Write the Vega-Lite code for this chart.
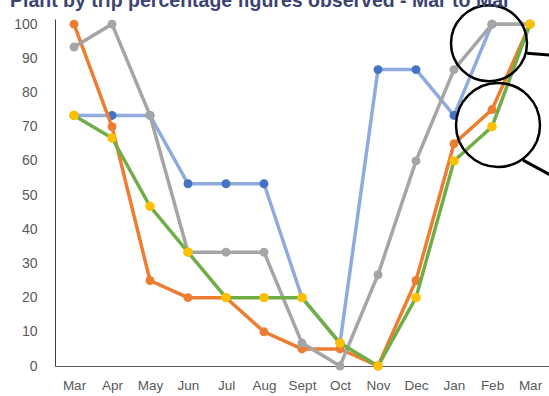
{
  "$schema": "https://vega.github.io/schema/vega-lite/v6.json",
  "width": 494,
  "height": 347,
  "autosize": {"type": "none"},
  "padding": {"left": 55, "top": 19, "right": 0, "bottom": 30},
  "background": "white",
  "config": {"view": {"stroke": null}},
  "title": {"text": "Plant by trip percentage figures observed - Mar to Mar", "anchor": "start", "frame": "group", "dx": -45, "offset": 0, "dy": 26, "baseline": "alphabetic", "fontSize": 19.5, "font": "Liberation Sans", "fontWeight": "bold", "color": "#3B4470"},
  "datasets": {
    "series": [
      {"month": "Mar", "series": "A", "value": 73.3},
      {"month": "Apr", "series": "A", "value": 73.3},
      {"month": "May", "series": "A", "value": 73.3},
      {"month": "Jun", "series": "A", "value": 53.3},
      {"month": "Jul", "series": "A", "value": 53.3},
      {"month": "Aug", "series": "A", "value": 53.3},
      {"month": "Sept", "series": "A", "value": 20},
      {"month": "Oct", "series": "A", "value": 6.7},
      {"month": "Nov", "series": "A", "value": 86.7},
      {"month": "Dec", "series": "A", "value": 86.7},
      {"month": "Jan", "series": "A", "value": 73.3},
      {"month": "Feb", "series": "A", "value": 100},
      {"month": "Mar ", "series": "A", "value": 100},
      {"month": "Mar", "series": "B", "value": 100},
      {"month": "Apr", "series": "B", "value": 70},
      {"month": "May", "series": "B", "value": 25},
      {"month": "Jun", "series": "B", "value": 20},
      {"month": "Jul", "series": "B", "value": 20},
      {"month": "Aug", "series": "B", "value": 10},
      {"month": "Sept", "series": "B", "value": 5},
      {"month": "Oct", "series": "B", "value": 5},
      {"month": "Nov", "series": "B", "value": 0},
      {"month": "Dec", "series": "B", "value": 25},
      {"month": "Jan", "series": "B", "value": 65},
      {"month": "Feb", "series": "B", "value": 75},
      {"month": "Mar ", "series": "B", "value": 100},
      {"month": "Mar", "series": "C", "value": 93.3},
      {"month": "Apr", "series": "C", "value": 100},
      {"month": "May", "series": "C", "value": 73.3},
      {"month": "Jun", "series": "C", "value": 33.3},
      {"month": "Jul", "series": "C", "value": 33.3},
      {"month": "Aug", "series": "C", "value": 33.3},
      {"month": "Sept", "series": "C", "value": 6.7},
      {"month": "Oct", "series": "C", "value": 0},
      {"month": "Nov", "series": "C", "value": 26.7},
      {"month": "Dec", "series": "C", "value": 60},
      {"month": "Jan", "series": "C", "value": 86.7},
      {"month": "Feb", "series": "C", "value": 100},
      {"month": "Mar ", "series": "C", "value": 100},
      {"month": "Mar", "series": "D", "value": 73.3},
      {"month": "Apr", "series": "D", "value": 66.7},
      {"month": "May", "series": "D", "value": 46.7},
      {"month": "Jun", "series": "D", "value": 33.3},
      {"month": "Jul", "series": "D", "value": 20},
      {"month": "Aug", "series": "D", "value": 20},
      {"month": "Sept", "series": "D", "value": 20},
      {"month": "Oct", "series": "D", "value": 6.7},
      {"month": "Nov", "series": "D", "value": 0},
      {"month": "Dec", "series": "D", "value": 20},
      {"month": "Jan", "series": "D", "value": 60},
      {"month": "Feb", "series": "D", "value": 70},
      {"month": "Mar ", "series": "D", "value": 100}
    ],
    "circles": [
      {"month": "Feb", "value": 94.4, "which": "top"},
      {"month": "Feb", "value": 70.5, "which": "bottom"}
    ],
    "leaders": [
      {"month": "Mar ", "value": 91.5, "value2": 90.9, "which": "top"},
      {"month": "Mar ", "value": 60.2, "value2": 55.6, "which": "bottom"}
    ]
  },
  "encoding": {
    "x": {
      "field": "month", "type": "nominal",
      "sort": ["Mar", "Apr", "May", "Jun", "Jul", "Aug", "Sept", "Oct", "Nov", "Dec", "Jan", "Feb", "Mar "],
      "scale": {"type": "point", "padding": 0.5},
      "axis": {"title": null, "labelExpr": "trim(datum.label)", "labelAngle": 0, "ticks": false, "domainColor": "#595959", "domainWidth": 1, "labelColor": "#595959", "labelFont": "Liberation Sans", "labelFontSize": 13.5, "labelPadding": 12}
    },
    "y": {
      "field": "value", "type": "quantitative",
      "scale": {"domain": [0, 101.5], "nice": false},
      "axis": {"title": null, "values": [0, 10, 20, 30, 40, 50, 60, 70, 80, 90, 100], "grid": false, "ticks": false, "domainColor": "#404040", "domainWidth": 1, "labelColor": "#595959", "labelFont": "Liberation Sans", "labelFontSize": 14, "labelPadding": 18}
    }
  },
  "layer": [
    {"mark": {"type": "rule", "color": "#222222", "strokeWidth": 1.2}, "encoding": {"y": {"datum": 101.5}, "x": null}},
    {"data": {"name": "series"}, "transform": [{"filter": "datum.series === 'A'"}], "mark": {"type": "line", "color": "#8FAADC", "strokeWidth": 3.5}},
    {"data": {"name": "series"}, "transform": [{"filter": "datum.series === 'A'"}], "mark": {"type": "point", "shape": "circle", "filled": true, "opacity": 1, "color": "#4472C4", "size": 80}},
    {"data": {"name": "series"}, "transform": [{"filter": "datum.series === 'B'"}], "mark": {"type": "line", "color": "#ED7D31", "strokeWidth": 3.5}},
    {"data": {"name": "series"}, "transform": [{"filter": "datum.series === 'B'"}], "mark": {"type": "point", "shape": "circle", "filled": true, "opacity": 1, "color": "#ED7D31", "size": 80}},
    {"data": {"name": "series"}, "transform": [{"filter": "datum.series === 'C'"}], "mark": {"type": "line", "color": "#A5A5A5", "strokeWidth": 3.5}},
    {"data": {"name": "series"}, "transform": [{"filter": "datum.series === 'C'"}], "mark": {"type": "point", "shape": "circle", "filled": true, "opacity": 1, "color": "#A5A5A5", "size": 80}},
    {"data": {"name": "series"}, "transform": [{"filter": "datum.series === 'D'"}], "mark": {"type": "line", "color": "#70AD47", "strokeWidth": 3.5}},
    {"data": {"name": "series"}, "transform": [{"filter": "datum.series === 'D'"}], "mark": {"type": "point", "shape": "circle", "filled": true, "opacity": 1, "color": "#FFC000", "size": 90}},
    {"data": {"name": "circles"}, "transform": [{"filter": "datum.which === 'top'"}], "mark": {"type": "point", "shape": "circle", "filled": false, "stroke": "#000000", "strokeWidth": 2.5, "opacity": 1, "size": 5776, "xOffset": -3, "clip": false}},
    {"data": {"name": "circles"}, "transform": [{"filter": "datum.which === 'bottom'"}], "mark": {"type": "point", "shape": "circle", "filled": false, "stroke": "#000000", "strokeWidth": 2.5, "opacity": 1, "size": 7056, "xOffset": 6, "clip": false}},
    {"data": {"name": "leaders"}, "transform": [{"filter": "datum.which === 'top'"}], "mark": {"type": "rule", "color": "#000000", "strokeWidth": 3, "xOffset": -3, "x2Offset": 22}, "encoding": {"x2": {"field": "month"}, "y2": {"field": "value2"}}},
    {"data": {"name": "leaders"}, "transform": [{"filter": "datum.which === 'bottom'"}], "mark": {"type": "rule", "color": "#000000", "strokeWidth": 3, "xOffset": -7, "x2Offset": 22}, "encoding": {"x2": {"field": "month"}, "y2": {"field": "value2"}}}
  ]
}
